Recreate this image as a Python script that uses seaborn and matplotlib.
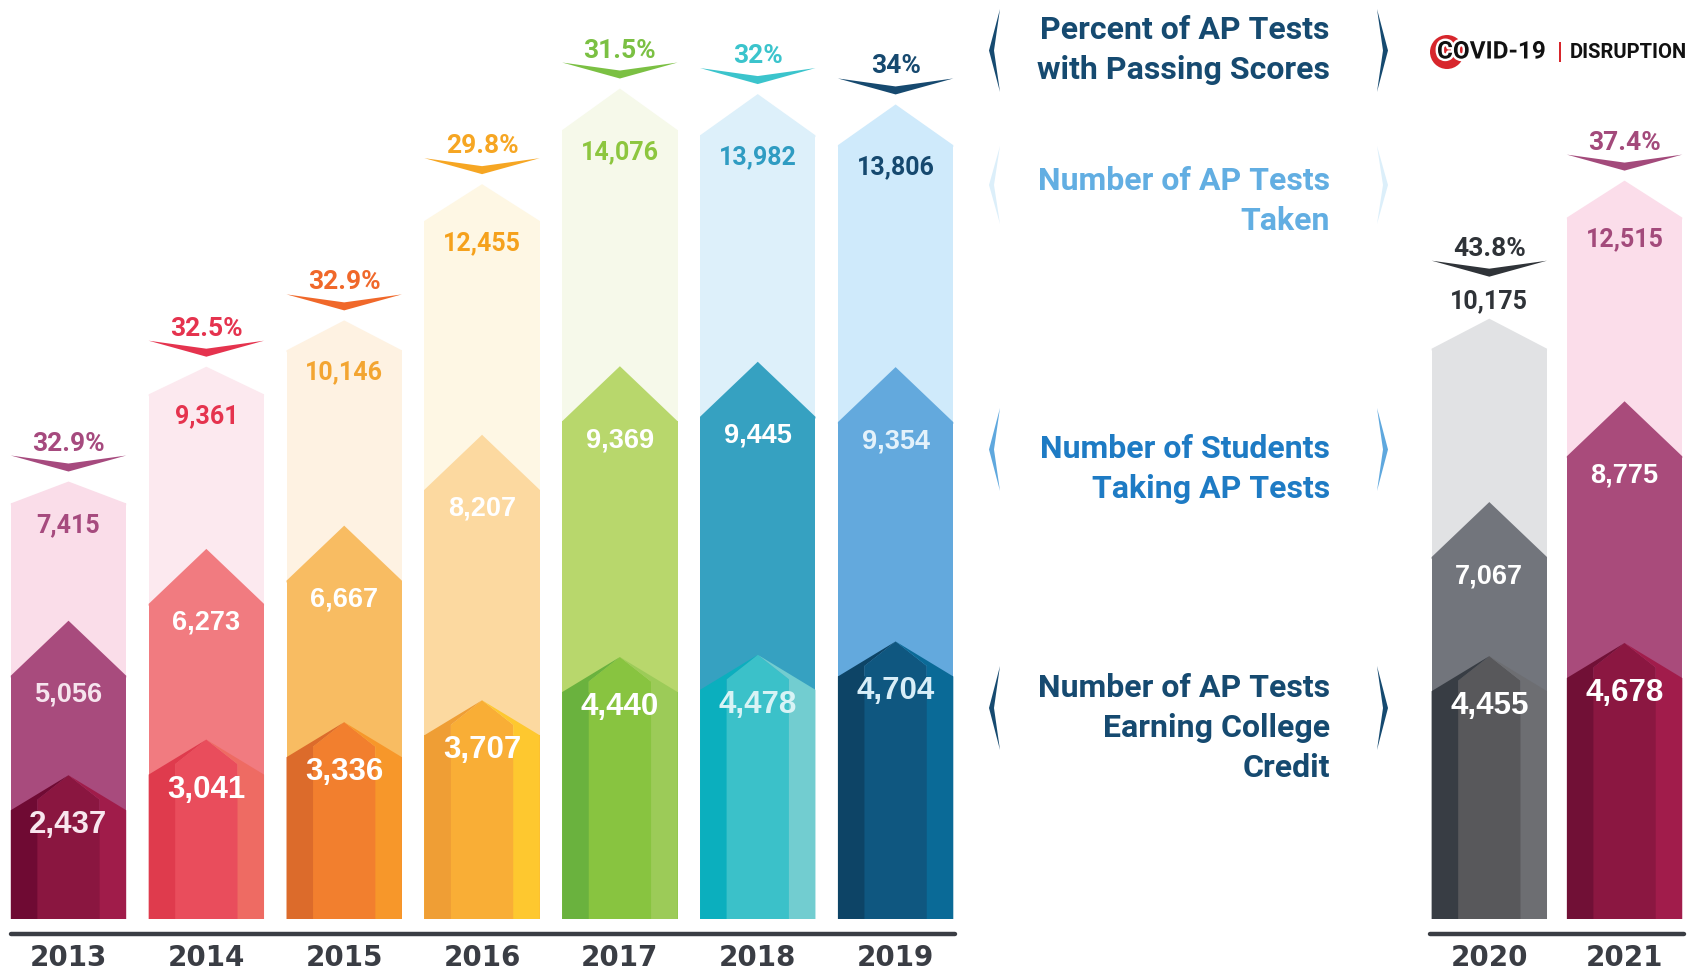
import numpy as np
import pandas as pd
import matplotlib
matplotlib.use("Agg")
import matplotlib.pyplot as plt
import matplotlib.patheffects as pe
import seaborn as sns
from matplotlib.patches import Ellipse

# ---------------- data ----------------
years = [2013, 2014, 2015, 2016, 2017, 2018, 2019, 2020, 2021]
tests_taken = [7415, 9361, 10146, 12455, 14076, 13982, 13806, 10175, 12515]
students = [5056, 6273, 6667, 8207, 9369, 9445, 9354, 7067, 8775]
college_credit = [2437, 3041, 3336, 3707, 4440, 4478, 4704, 4455, 4678]
pass_pct = [32.9, 32.5, 32.9, 29.8, 31.5, 32.0, 34.0, 43.8, 37.4]

legend_items = [
    ["Percent of AP Tests", "with Passing Scores"],
    ["Number of AP Tests", "Taken"],
    ["Number of Students", "Taking AP Tests"],
    ["Number of AP Tests", "Earning College", "Credit"],
]
covid_label = ["COVID-19", "|", "DISRUPTION"]

# ---------------- styles ----------------
light_c = ["#FADDE9", "#FCE9EF", "#FEF2E2", "#FEF7E4", "#F6F9EA", "#DDF0FA", "#CFEAFB", "#E1E2E4", "#FBDDEA"]
med_c = ["#A84B7D", "#F17B80", "#F8BC62", "#FCD9A0", "#B8D76C", "#36A1C1", "#63A9DD", "#72757C", "#A94B7B"]
dark_l = ["#6F0A33", "#DF3B4D", "#DC6B2B", "#EF9E35", "#6AB23E", "#0BAFBE", "#0D4466", "#383D44", "#711036"]
dark_m = ["#8A1640", "#E94D5C", "#F27F2E", "#F9AE36", "#88C440", "#3BC1C9", "#0F5780", "#58585B", "#8B1741"]
dark_r = ["#A01C4A", "#EE6B63", "#F7972A", "#FEC82F", "#9CCB58", "#72CDD0", "#0A6A97", "#6D6E72", "#A11C4B"]
label_c = ["#A64A7E", "#E5334E", "#F3A531", "#F5A11C", "#8DC63F", "#2F9CC2", "#16496F", "#2F3338", "#A34A7B"]
pct_c = ["#A64A7E", "#E5334E", "#F0682A", "#F6A623", "#7BC043", "#3BC4CC", "#16496F", "#2F3338", "#A34A7B"]
med_txt = ["#F6E4EE", "#FFFFFF", "#FFFFFF", "#FFFFFF", "#FFFFFF", "#FFFFFF", "#E4F2FB", "#FFFFFF", "#FFFFFF"]
dark_txt = ["#F8E6EE", "#FFFFFF", "#FFFFFF", "#FFFFFF", "#FFFFFF", "#D8F3F5", "#D8EEF8", "#FFFFFF", "#FFFFFF"]

W, H = 1691, 974
X0, XU = 68.5, 137.85       # pixel of x=0, pixels per x unit
Y0, YU = 919.0, 0.059       # pixel of baseline, pixels per value unit
PXY = 1.0 / YU              # value units per pixel
xpos = [0, 1, 2, 3, 4, 5, 6, 10.307, 11.288]
BAR_W = 0.837
HW = BAR_W / 2


def P(px, py):
    return (px - X0) / XU, (Y0 - py) / YU


sns.set_theme(style="white")
ROB = ["Roboto", "DejaVu Sans"]
LIB = ["Liberation Sans", "DejaVu Sans"]

fig = plt.figure(figsize=(W / 100, H / 100), dpi=100)
ax = fig.add_axes([0, 0, 1, 1])

ystr = [str(y) for y in years]
drop_light = [0.05 * v for v in tests_taken]
drop_med = 55 * PXY
drop_dark = 35 * PXY

df = pd.DataFrame({
    "year": ystr,
    "x": xpos,
    "light_body": [v - d for v, d in zip(tests_taken, drop_light)],
    "med_body": [v - drop_med for v in students],
    "dark_body": [v - drop_dark for v in college_credit],
})
wparam = BAR_W / np.min(np.diff(np.sort(xpos)))

for col, pal, z in [("light_body", light_c, 1), ("med_body", med_c, 2), ("dark_body", dark_m, 3)]:
    sns.barplot(data=df, x="x", y=col, hue="year", hue_order=ystr,
                palette=dict(zip(ystr, pal)), native_scale=True, width=wparam,
                dodge=False, legend=False, errorbar=None, linewidth=0, saturation=1,
                orient="x", zorder=z, ax=ax)

eps = 30
for i, xc in enumerate(xpos):
    L, R = xc - HW, xc + HW
    # light head
    v = tests_taken[i]; sh = v - drop_light[i]
    ax.fill([L, L, xc, R, R], [sh - eps, sh, v, sh, sh - eps], color=light_c[i], lw=0, zorder=1.1)
    # medium head
    v = students[i]; sh = v - drop_med
    ax.fill([L, L, xc, R, R], [sh - eps, sh, v, sh, sh - eps], color=med_c[i], lw=0, zorder=2.1)
    # dark faceted head
    v = college_credit[i]; sh = v - drop_dark
    xl, xr = L + 0.23 * BAR_W, R - 0.23 * BAR_W
    yi = sh + 0.3 * drop_dark
    ax.fill([xl, xl, xc, xr, xr], [sh - eps, yi, v, yi, sh - eps], color=dark_m[i], lw=0, zorder=3.1)
    ax.fill([L, L, xc, xl, xl], [0, sh, v, yi, 0], color=dark_l[i], lw=0, zorder=3.2)
    ax.fill([R, R, xc, xr, xr], [0, sh, v, yi, 0], color=dark_r[i], lw=0, zorder=3.2)

    # labels
    vt = tests_taken[i]
    above = years[i] == 2020
    if above:
        ax.text(xc, vt + 17 * PXY, f"{vt:,}", ha="center", va="center", fontsize=18,
                fontweight="bold", color=label_c[i], family=ROB, zorder=6)
        tip = vt + 42 * PXY
    else:
        ax.text(xc, vt - drop_light[i] - 22 * PXY, f"{vt:,}", ha="center", va="center", fontsize=18,
                fontweight="bold", color=label_c[i], family=ROB, zorder=6)
        tip = vt + 10 * PXY
    ax.text(xc, students[i] - 74 * PXY, f"{students[i]:,}", ha="center", va="center", fontsize=19.5,
            fontweight="bold", color=med_txt[i], family=LIB, zorder=6)
    ax.text(xc, college_credit[i] - 50 * PXY, f"{college_credit[i]:,}", ha="center", va="center",
            fontsize=22.5, fontweight="bold", color=dark_txt[i], family=LIB, zorder=6)

    # chevron + percent
    yw = tip + 16 * PXY
    ax.fill([xc - HW, xc, xc + HW, xc], [yw, yw - 8 * PXY, yw, tip], color=pct_c[i], lw=0, zorder=5)
    ax.text(xc, yw + 12 * PXY, f"{pass_pct[i]:g}%", ha="center", va="center", fontsize=19,
            fontweight="bold", color=pct_c[i], family=ROB, zorder=6)

    # year label
    ax.text(xc, (Y0 - 958) / YU, ystr[i], ha="center", va="center", fontsize=20,
            fontweight="bold", color="#3A3D44", family=["DejaVu Sans"], zorder=6)

# baselines
for x1, x2 in [(10.8, 955), (1430, 1684)]:
    a, yb = P(x1, 934)
    b, _ = P(x2, 934)
    ax.plot([a, b], [yb, yb], color="#3A3D44", lw=3.2, solid_capstyle="round", zorder=4)

# legend panel
leg_text_c = ["#164A70", "#62AEE2", "#1E7BC4", "#164A70"]
leg_br_c = ["#164A70", "#DCEFFA", "#5FA8DE", "#164A70"]
leg_lines_y = [[30, 70], [181, 221], [449, 489], [688, 728, 768]]
leg_br_y = [(9, 92), (146, 224), (408, 491), (666, 750)]
for k, lines in enumerate(legend_items):
    for line, py in zip(lines, leg_lines_y[k]):
        tx, ty = P(1330, py)
        ax.text(tx, ty, line, ha="right", va="center", fontsize=23, fontweight="bold",
                color=leg_text_c[k], family=ROB, zorder=6)
    t, b = leg_br_y[k]
    m = (t + b) / 2
    for xe, xt, xi in [(1000, 989, 994), (1377, 1388, 1383)]:
        pts = [P(xe, t), P(xt, m), P(xe, b), P(xi, m)]
        ax.fill([p[0] for p in pts], [p[1] for p in pts], color=leg_br_c[k], lw=0, zorder=5)

# COVID logo
cx, cy = P(1447, 52)
ax.add_patch(Ellipse((cx, cy), 34 / XU, 34 * PXY, facecolor="#D7262C", edgecolor="none", zorder=6))
t1x, t1y = P(1437, 52)
ax.text(t1x, t1y, covid_label[0], ha="left", va="center", fontsize=17.5, fontweight="bold",
        color="#111111", family=ROB, zorder=7,
        path_effects=[pe.withStroke(linewidth=3.5, foreground="white")])
t2x, _ = P(1560, 52)
ax.text(t2x, t1y, covid_label[1], ha="center", va="center", fontsize=17, fontweight="bold",
        color="#D7262C", family=ROB, zorder=7)
t3x, _ = P(1570, 52)
ax.text(t3x, t1y, covid_label[2], ha="left", va="center", fontsize=14.5, fontweight="bold",
        color="#111111", family=ROB, zorder=7)

ax.set_xlim((0 - X0) / XU, (W - X0) / XU)
ax.set_ylim((Y0 - H) / YU, Y0 / YU)
ax.axis("off")
fig.savefig("out.png", dpi=100, facecolor="white")
